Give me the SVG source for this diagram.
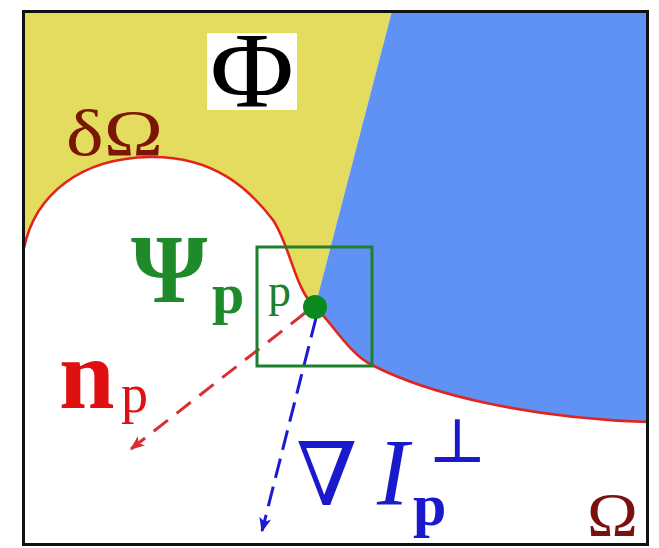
<svg xmlns="http://www.w3.org/2000/svg" width="659" height="548" viewBox="0 0 659 548">
<defs>
<style>
.serif{font-family:"Liberation Serif","DejaVu Serif",serif}
.dv{font-family:"DejaVu Serif","Liberation Serif",serif}
.curve{fill:none;stroke:#e0261c;stroke-width:2.6}
</style>
<marker id="ah-red" viewBox="0 0 12 10" refX="11" refY="5" markerWidth="5" markerHeight="4" orient="auto" markerUnits="strokeWidth">
<path d="M0,0 L12,5 L0,10 L3,5 Z" fill="#d83030"/>
</marker>
<marker id="ah-blue" viewBox="0 0 12 10" refX="11" refY="5" markerWidth="5" markerHeight="4" orient="auto" markerUnits="strokeWidth">
<path d="M0,0 L12,5 L0,10 L3,5 Z" fill="#1a1ad0"/>
</marker>
</defs>
<rect width="659" height="548" fill="#ffffff"/>
<g id="regions">
<path id="phi-region" d="M24,11 L392,11 L315,307 C295,290 290,245 273,220 C250,190 215,156 150,157 C80,158 35,195 24,248 Z" fill="#e3dc5f"/>
<path id="blue-region" d="M392,11 L648,11 L648,422 C530,418 430,395 372,365 C350,355 330,320 315,307 Z" fill="#6092f5"/>
</g>
<g id="boundary">
<path class="curve" d="M24,248 C35,195 80,158 150,157 C215,156 250,190 273,220 C290,245 295,290 315,307 C330,320 350,355 372,365 C430,395 530,418 648,422"/>
</g>
<rect id="frame" x="23.5" y="11.5" width="624" height="533" fill="none" stroke="#111111" stroke-width="3"/>
<g id="phi-label">
<rect x="207" y="33" width="90" height="77" fill="#ffffff"/>
<text class="serif" x="252" y="107" font-size="108" text-anchor="middle" fill="#000000" textLength="84" lengthAdjust="spacingAndGlyphs">Φ</text>
</g>
<g id="dOmega-label">
<text class="serif" x="66" y="155" font-size="66" fill="#7b1506" textLength="97" lengthAdjust="spacingAndGlyphs">δΩ</text>
</g>
<g id="connectors">
<line x1="305" y1="313" x2="131" y2="449" stroke="#d83030" stroke-width="3" stroke-dasharray="18 11" marker-end="url(#ah-red)"/>
<line x1="316" y1="318" x2="262" y2="531" stroke="#1a1ad0" stroke-width="3" stroke-dasharray="20 9" marker-end="url(#ah-blue)"/>
</g>
<g id="psi-box">
<rect x="257" y="247" width="115" height="119" fill="none" stroke="#1f7f2f" stroke-width="3"/>
</g>
<g id="point-p">
<circle cx="315" cy="307" r="12" fill="#0a8a1e"/>
<text class="serif" x="268" y="306" font-size="46" fill="#1f7f2f">p</text>
</g>
<g id="psi-label">
<text class="serif" x="131" y="302" font-size="98" font-weight="bold" fill="#1f8a2a">Ψ</text>
<text class="serif" x="212" y="313" font-size="58" font-weight="bold" fill="#1f8a2a">p</text>
</g>
<g id="np-label">
<text class="serif" x="59" y="408" font-size="100" font-weight="bold" fill="#e01010">n</text>
<text class="serif" x="121" y="412" font-size="54" fill="#e01010">p</text>
</g>
<g id="grad-label">
<text class="dv" x="296" y="505" font-size="88" fill="#1a1acc">∇</text>
<text class="serif" x="377" y="505" font-size="95" font-style="italic" fill="#1a1acc">I</text>
<text class="serif" x="413" y="525" font-size="60" font-weight="bold" fill="#1a1acc">p</text>
<text class="dv" x="428" y="462" font-size="62" fill="#1a1acc">⊥</text>
</g>
<g id="omega-label">
<text class="serif" x="587" y="535" font-size="62" fill="#7a1010" textLength="51" lengthAdjust="spacingAndGlyphs">Ω</text>
</g>
</svg>
